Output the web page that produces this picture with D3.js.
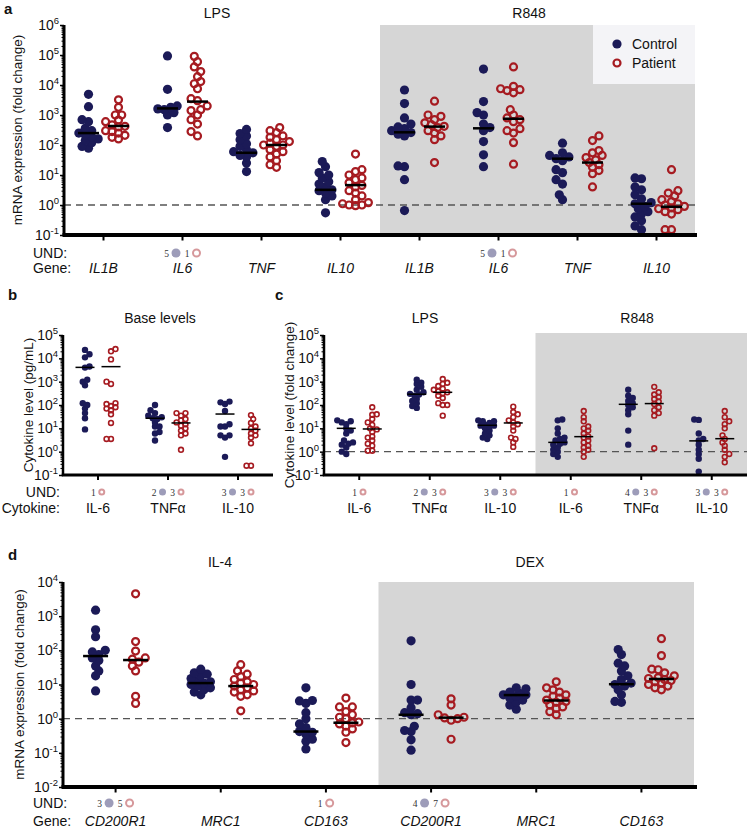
<!DOCTYPE html>
<html>
<head>
<meta charset="utf-8">
<script src="https://cdn.jsdelivr.net/npm/d3@7"></script>
<style>
body { margin: 0; background: #fff; }
svg { display: block; font-family: "Liberation Sans", Arial, sans-serif; }
</style>
</head>
<body>
<svg id="chart"></svg>
<script>
const width = 747;
const height = 828;
const NAVY = "#1b1a57";
const RED = "#a61b21";
const SHADE = "#d6d6d6";

// ---- panel a : mRNA, LPS / R848 ----
const aGenes = ["IL1B", "IL6", "TNF", "IL10", "IL1B", "IL6", "TNF", "IL10"];
const aControl = [
	[4900, 1900, 700, 600, 360, 300, 250, 220, 190, 160, 140, 120, 90, 78],
	[93000, 7200, 2000, 1800, 1600, 1500, 1200, 1000, 380],
	[330, 240, 200, 150, 110, 90, 70, 60, 55, 45, 40, 25, 13],
	[28, 19, 12, 10, 8, 6, 5, 4, 3.2, 3, 2.5, 2, 1.5, 0.55],
	[6800, 2400, 800, 500, 400, 350, 300, 260, 230, 200, 20, 19, 7, 0.65],
	[34000, 2800, 1200, 1000, 500, 380, 300, 130, 47, 19],
	[115, 55, 45, 40, 35, 30, 15, 12, 7, 5, 2.2, 1.5],
	[8, 7.5, 4, 3.2, 2.2, 1.6, 1.2, 1.1, 0.9, 0.75, 0.6, 0.5, 0.4, 0.3, 0.2, 0.15],
];
const aPatient = [
	[3200, 1800, 1000, 1000, 680, 600, 470, 420, 400, 300, 280, 250, 210, 180, 160],
	[90000, 60000, 40000, 28000, 19000, 13000, 11000, 7500, 3500, 3000, 2000, 1500, 1400, 1000, 700, 500, 280, 200],
	[380, 300, 260, 200, 180, 150, 130, 115, 100, 100, 90, 70, 60, 50, 40, 30, 22, 18],
	[50, 15, 13, 10, 8, 7, 5.5, 4.5, 4, 3, 2.5, 2, 1.5, 1.2, 1.1, 1.0, 1.0, 0.95],
	[2900, 1000, 900, 700, 550, 480, 420, 380, 300, 250, 200, 150, 26],
	[40000, 9000, 7500, 7000, 6500, 5500, 1500, 1000, 800, 700, 600, 350, 300, 250, 120, 23],
	[200, 140, 65, 55, 45, 38, 32, 26, 22, 18, 14, 11, 4],
	[15, 3, 2.5, 2, 1.5, 1.3, 1.1, 1.0, 0.9, 0.8, 0.75, 0.7, 0.6, 0.5, 0.15, 0.15],
];
const aControlMedian = [250, 1660, 55, 3.2, 265, 360, 35, 1.1];
const aPatientMedian = [430, 2800, 100, 4.6, 410, 750, 26, 0.87];
const aUndControl = [null, 5, null, null, null, 5, null, null];
const aUndPatient = [null, 1, null, null, null, 1, null, null];

// ---- panel b : base cytokine levels ----
const bCytokines = ["IL-6", "TNFα", "IL-10"];
const bControl = [
	[23000, 15000, 11000, 4500, 4000, 1200, 1000, 700, 120, 100, 70, 45, 27, 9],
	[100, 60, 45, 35, 30, 27, 25, 18, 12, 12, 7, 6, 3],
	[140, 130, 110, 55, 15, 12, 12, 5, 5, 4, 0.6],
];
const bPatient = [
	[25000, 20000, 9000, 1000, 800, 120, 110, 90, 80, 70, 60, 40, 17, 3.5, 3.5],
	[45, 45, 35, 25, 22, 18, 15, 13, 10, 8, 6, 5, 1.2],
	[37, 25, 17, 12, 10, 8, 6, 5, 4, 2.3, 0.25, 0.25],
];
const bControlMean = [4100, 27, 41];
const bPatientMean = [4400, 17, 9];
const bUndControl = [null, 2, 3];
const bUndPatient = [1, 3, 3];

// ---- panel c : cytokine fold change, LPS / R848 ----
const cCytokines = ["IL-6", "TNFα", "IL-10", "IL-6", "TNFα", "IL-10"];
const cControl = [
	[22, 20, 18, 15, 10, 8, 6, 3, 2.5, 2.2, 2, 1.5, 1.0, 0.8],
	[1200, 900, 800, 600, 450, 350, 300, 280, 250, 180, 150, 120, 90, 75],
	[22, 20, 20, 17, 14, 13, 13, 12, 10, 8, 6, 5, 4, 3.5],
	[24, 22, 10, 6, 4, 3.5, 3, 2.5, 2.2, 2, 1.5, 1.2, 1.0, 0.8, 0.6],
	[450, 250, 200, 150, 120, 100, 80, 60, 40, 8, 2],
	[24, 23, 6, 3.5, 3, 2, 1.2, 0.8, 0.5, 0.14],
];
const cPatient = [
	[80, 40, 38, 25, 18, 14, 10, 9, 7, 4.5, 4, 3, 2.2, 1.8, 1.1, 1.1],
	[1300, 900, 800, 650, 500, 450, 380, 350, 320, 250, 200, 120, 100, 100, 35],
	[85, 50, 40, 30, 22, 18, 15, 12, 8, 4, 3.5, 2.5, 1.6],
	[55, 30, 20, 12, 10, 8, 6, 4.5, 4, 3, 2.5, 1.8, 1.5, 1.2, 1.0, 0.6],
	[600, 350, 280, 220, 180, 140, 110, 80, 60, 45, 35, 1.4],
	[55, 30, 20, 15, 10, 5, 3.5, 2.5, 1.8, 1.2, 0.8, 0.6, 0.35],
];
const cControlMean = [10, 290, 13.5, 2.5, 107, 2.9];
const cPatientMean = [9.4, 350, 17, 4.4, 115, 3.6];
const cUndControl = [null, 2, 3, null, 4, 3];
const cUndPatient = [1, 3, 3, 1, 3, 3];

// ---- panel d : mRNA, IL-4 / DEX ----
const dGenes = ["CD200R1", "MRC1", "CD163", "CD200R1", "MRC1", "CD163"];
const dControl = [
	[1500, 400, 250, 100, 90, 75, 60, 50, 35, 25, 18, 6.5],
	[28, 22, 20, 18, 15, 13, 12, 11, 10, 9, 8, 7, 6, 5],
	[8, 3.4, 3.3, 2.8, 1.5, 1.0, 0.7, 0.55, 0.42, 0.4, 0.35, 0.25, 0.22, 0.13],
	[190, 10, 3.5, 3.5, 2.1, 1.5, 1.4, 1.3, 0.6, 0.45, 0.42, 0.24, 0.12],
	[8, 7.5, 6, 5.5, 5, 5, 4.5, 4, 3.5, 3, 2.5, 1.9],
	[105, 75, 42, 35, 25, 18, 14, 11, 10, 9, 7, 5, 3.2, 3.0],
];
const dPatient = [
	[4500, 180, 95, 60, 55, 45, 35, 25, 4.5, 2.8],
	[38, 25, 20, 17, 14, 12, 11, 10, 9, 8, 7, 6.5, 6, 5, 4.5, 1.7],
	[4, 2.2, 2.2, 1.6, 1.3, 1.1, 1.0, 0.8, 0.75, 0.7, 0.6, 0.5, 0.4, 0.2],
	[3.8, 2.5, 1.3, 1.1, 1.05, 1.0, 0.9, 0.25],
	[12, 8, 7, 6, 5, 4.5, 4, 3.5, 3.2, 3, 2.5, 2.2, 2, 1.6, 1.3],
	[220, 70, 28, 27, 22, 18, 16, 15, 14, 13, 12, 11, 10, 9, 8, 7],
];
const dControlMedian = [68, 11, 0.42, 1.3, 4.9, 10.2];
const dPatientMedian = [52, 9, 0.76, 1.07, 3.4, 14.5];
const dUndControl = [3, null, null, 4, null, null];
const dUndPatient = [5, null, 1, 7, null, null];

const svg = d3.select("#chart").attr("width", width).attr("height", height);

// simple beeswarm: spreads overlapping points sideways (points may overlap a bit)
function swarm(vals, y, r) {
	const pts = vals
		.map((v) => ({ v: v, y: y(v), dx: 0 }))
		.sort((a, b) => b.y - a.y);
	const placed = [];
	const minD = r * 1.25;
	const step = r * 0.7;
	pts.forEach((p, n) => {
		let bestDx = 0;
		let bestScore = -Infinity;
		let done = false;
		for (let k = 0; k <= 4 && !done; k++) {
			const sgn = n % 2 ? -1 : 1;
			const cands = k === 0 ? [0] : [sgn * k * step, -sgn * k * step];
			for (const dx of cands) {
				let dmin = Infinity;
				placed.forEach((q) => {
					dmin = Math.min(dmin, Math.hypot(q.dx - dx, q.y - p.y));
				});
				if (dmin >= minD) {
					bestDx = dx;
					done = true;
					break;
				}
				if (dmin > bestScore + 0.5) {
					bestScore = dmin;
					bestDx = dx;
				}
			}
		}
		p.dx = bestDx;
		placed.push(p);
	});
	return pts;
}

function drawPanel(p) {
	const g = svg.append("g");
	const x = d3
		.scaleBand()
		.domain(d3.range(p.cats.length))
		.range([p.x0, p.x1]);
	const y = d3.scaleLog().domain(p.domain).range([p.yBot, p.yTop]);
	const mid = (i) => x(i) + x.bandwidth() / 2;

	if (p.shadeFrom != null) {
		g.append("rect")
			.attr("x", x(p.shadeFrom))
			.attr("y", p.shadeTop)
			.attr("width", p.shadeX1 - x(p.shadeFrom))
			.attr("height", p.yBot - p.shadeTop)
			.attr("fill", SHADE);
	}

	if (p.dashed) {
		g.append("line")
			.attr("x1", p.x0)
			.attr("x2", p.axisX1)
			.attr("y1", y(1))
			.attr("y2", y(1))
			.attr("stroke", "#555")
			.attr("stroke-width", 1.3)
			.attr("stroke-dasharray", "7,5");
	}

	// points
	p.cats.forEach((c, i) => {
		const ctrl = swarm(p.control[i], y, p.r);
		g.append("g")
			.selectAll("circle")
			.data(ctrl)
			.enter()
			.append("circle")
			.attr("cx", (d) => mid(i) - p.off + d.dx)
			.attr("cy", (d) => d.y)
			.attr("r", p.r)
			.attr("fill", NAVY);

		const pat = swarm(p.patient[i], y, p.r);
		g.append("g")
			.selectAll("circle")
			.data(pat)
			.enter()
			.append("circle")
			.attr("cx", (d) => mid(i) + p.off + d.dx)
			.attr("cy", (d) => d.y)
			.attr("r", p.r - p.sw / 2)
			.attr("fill", "none")
			.attr("stroke", RED)
			.attr("stroke-width", p.sw);
	});

	// median / mean bars
	const bars = [];
	p.cats.forEach((c, i) => {
		bars.push({ cx: mid(i) - p.off, v: p.cMid[i] });
		bars.push({ cx: mid(i) + p.off, v: p.pMid[i] });
	});
	g.append("g")
		.selectAll("line")
		.data(bars)
		.enter()
		.append("line")
		.attr("x1", (d) => d.cx - p.midW / 2)
		.attr("x2", (d) => d.cx + p.midW / 2)
		.attr("y1", (d) => y(d.v))
		.attr("y2", (d) => y(d.v))
		.attr("stroke", "#000")
		.attr("stroke-width", p.midSW);

	// y axis: minor and major ticks
	const e0 = Math.round(Math.log10(p.domain[0]));
	const e1 = Math.round(Math.log10(p.domain[1]));
	const majors = d3.range(e0, e1 + 1);
	const minors = [];
	d3.range(e0, e1).forEach((e) => {
		d3.range(2, 10).forEach((k) => minors.push(k * Math.pow(10, e)));
	});
	const axMinor = g
		.append("g")
		.attr("transform", `translate(${p.x0},0)`)
		.call(d3.axisLeft(y).tickValues(minors).tickSize(2.5).tickFormat(""));
	axMinor.select(".domain").remove();
	axMinor.selectAll("line").attr("stroke-width", 1);

	const axMajor = g
		.append("g")
		.attr("transform", `translate(${p.x0},0)`)
		.call(
			d3
				.axisLeft(y)
				.tickValues(majors.map((e) => Math.pow(10, e)))
				.tickSize(4)
				.tickFormat("")
		);
	axMajor.select(".domain").remove();
	axMajor.selectAll("line").attr("stroke-width", 1.5);

	const lab = g
		.append("g")
		.selectAll("text")
		.data(majors)
		.enter()
		.append("text")
		.attr("x", p.x0 - 5)
		.attr("y", (e) => y(Math.pow(10, e)) + 5)
		.attr("text-anchor", "end")
		.attr("font-size", p.tickFont)
		.attr("fill", "#111");
	lab.append("tspan").text("10");
	lab.append("tspan")
		.attr("dy", -6)
		.attr("font-size", p.supFont)
		.text((e) => e);

	g.append("line")
		.attr("x1", p.x0)
		.attr("x2", p.x0)
		.attr("y1", p.yTop)
		.attr("y2", p.yBot)
		.attr("stroke", "#000")
		.attr("stroke-width", p.yAxisW);

	// x axis
	const axX = g
		.append("g")
		.attr("transform", `translate(0,${p.yBot + p.xAxisW / 2 - 0.5})`)
		.call(d3.axisBottom(x).tickSize(4).tickFormat(""));
	axX.select(".domain").remove();
	axX.selectAll(".tick line").attr("stroke-width", 2);
	g.append("line")
		.attr("x1", p.x0 - p.yAxisW / 2)
		.attr("x2", p.axisX1)
		.attr("y1", p.yBot)
		.attr("y2", p.yBot)
		.attr("stroke", "#000")
		.attr("stroke-width", p.xAxisW);

	// y title
	g.append("text")
		.attr("transform", `translate(${p.yTitleX},${(p.yTop + p.yBot) / 2}) rotate(-90)`)
		.attr("dy", "0.35em")
		.attr("text-anchor", "middle")
		.attr("font-size", 13.5)
		.attr("fill", "#111")
		.text(p.yTitle);

	// panel titles
	p.titles.forEach((t) => {
		g.append("text")
			.attr("x", t[1])
			.attr("y", p.titleY)
			.attr("text-anchor", "middle")
			.attr("font-size", 14)
			.attr("fill", "#111")
			.text(t[0]);
	});

	// category labels
	g.append("g")
		.selectAll("text")
		.data(p.cats)
		.enter()
		.append("text")
		.attr("x", (d, i) => mid(i))
		.attr("y", p.catY)
		.attr("text-anchor", "middle")
		.attr("font-size", 14)
		.attr("font-style", p.italic ? "italic" : "normal")
		.attr("fill", "#111")
		.text((d) => d);

	// UND markers
	p.cats.forEach((c, i) => {
		const items = [];
		if (p.undC[i] != null) {
			items.push({ t: "n", s: p.undC[i], w: 5 });
			items.push({ t: "f", w: p.undR * 2 });
		}
		if (p.undP[i] != null) {
			items.push({ t: "n", s: p.undP[i], w: 5 });
			items.push({ t: "o", w: p.undR * 2 });
		}
		if (!items.length) return;
		const gaps = items.map((it, k) => (k === 0 ? 0 : it.t === "n" ? 4 : 2.5));
		const total = d3.sum(items, (it) => it.w) + d3.sum(gaps);
		let cur = mid(i) - total / 2;
		items.forEach((it, k) => {
			cur += gaps[k];
			const cx = cur + it.w / 2;
			if (it.t === "n") {
				g.append("text")
					.attr("x", cx)
					.attr("y", p.undY + 3.5)
					.attr("text-anchor", "middle")
					.attr("font-family", "'Liberation Serif', 'DejaVu Serif', serif")
					.attr("font-size", 9.5)
					.attr("fill", "#333")
					.text(it.s);
			} else if (it.t === "f") {
				g.append("circle").attr("cx", cx).attr("cy", p.undY).attr("r", p.undR).attr("fill", "#9d9cb9");
			} else {
				g.append("circle")
					.attr("cx", cx)
					.attr("cy", p.undY)
					.attr("r", p.undR - 1)
					.attr("fill", "none")
					.attr("stroke", "#d6989b")
					.attr("stroke-width", 2);
			}
			cur += it.w;
		});
	});

	return { x: x, y: y, g: g };
}

drawPanel({
	cats: aGenes, control: aControl, patient: aPatient, cMid: aControlMedian, pMid: aPatientMedian,
	undC: aUndControl, undP: aUndPatient,
	x0: 64, x1: 696, axisX1: 697, yTop: 25, yBot: 235, domain: [0.1, 1e6],
	r: 4.6, sw: 2.2, off: 15, midW: 21, midSW: 2.5,
	shadeFrom: 4, shadeX1: 695, shadeTop: 25, dashed: true,
	xAxisW: 4, yAxisW: 3, tickFont: 14, supFont: 9.5,
	yTitle: "mRNA expression (fold change)", yTitleX: 17,
	titles: [["LPS", 217], ["R848", 529]], titleY: 18,
	italic: true, catY: 273, undY: 253, undR: 4.5,
});

drawPanel({
	cats: bCytokines, control: bControl, patient: bPatient, cMid: bControlMean, pMid: bPatientMean,
	undC: bUndControl, undP: bUndPatient,
	x0: 63, x1: 273, axisX1: 273, yTop: 335, yBot: 475, domain: [0.1, 1e5],
	r: 3.2, sw: 1.6, off: 13, midW: 19, midSW: 1.5,
	shadeFrom: null, dashed: false,
	xAxisW: 3, yAxisW: 2.5, tickFont: 14, supFont: 9.5,
	yTitle: "Cytokine level (pg/mL)", yTitleX: 28,
	titles: [["Base levels", 160]], titleY: 323,
	italic: false, catY: 513, undY: 492, undR: 3.5,
});

drawPanel({
	cats: cCytokines, control: cControl, patient: cPatient, cMid: cControlMean, pMid: cPatientMean,
	undC: cUndControl, undP: cUndPatient,
	x0: 324, x1: 747, axisX1: 747, yTop: 335, yBot: 475, domain: [0.1, 1e5],
	r: 3.2, sw: 1.6, off: 13, midW: 19, midSW: 1.5,
	shadeFrom: 3, shadeX1: 747, shadeTop: 333, dashed: true,
	xAxisW: 3, yAxisW: 2.5, tickFont: 14, supFont: 9.5,
	yTitle: "Cytokine level (fold change)", yTitleX: 289,
	titles: [["LPS", 425], ["R848", 637]], titleY: 323,
	italic: false, catY: 513, undY: 492, undR: 3.5,
});

drawPanel({
	cats: dGenes, control: dControl, patient: dPatient, cMid: dControlMedian, pMid: dPatientMedian,
	undC: dUndControl, undP: dUndPatient,
	x0: 63, x1: 694, axisX1: 697, yTop: 582, yBot: 787, domain: [0.01, 1e4],
	r: 4.6, sw: 2.2, off: 20, midW: 25, midSW: 2.5,
	shadeFrom: 3, shadeX1: 694, shadeTop: 582, dashed: true,
	xAxisW: 4, yAxisW: 3, tickFont: 14, supFont: 9.5,
	yTitle: "mRNA expression (fold change)", yTitleX: 19,
	titles: [["IL-4", 220], ["DEX", 530]], titleY: 567,
	italic: true, catY: 826, undY: 803, undR: 4.5,
});

// row headers
const rowLabels = [
	{ text: "UND:", x: 33, y: 258, anchor: "start" },
	{ text: "Gene:", x: 33, y: 273, anchor: "start" },
	{ text: "UND:", x: 60, y: 497, anchor: "end" },
	{ text: "Cytokine:", x: 60, y: 513, anchor: "end" },
	{ text: "UND:", x: 33, y: 808, anchor: "start" },
	{ text: "Gene:", x: 33, y: 826, anchor: "start" },
];
svg.append("g")
	.selectAll("text")
	.data(rowLabels)
	.enter()
	.append("text")
	.attr("x", (d) => d.x)
	.attr("y", (d) => d.y)
	.attr("text-anchor", (d) => d.anchor)
	.attr("font-size", 14)
	.attr("fill", "#111")
	.text((d) => d.text);

// panel letters
const letters = [
	{ t: "a", x: 4, y: 14 },
	{ t: "b", x: 8, y: 300 },
	{ t: "c", x: 275, y: 300 },
	{ t: "d", x: 8, y: 560 },
];
svg.append("g")
	.selectAll("text")
	.data(letters)
	.enter()
	.append("text")
	.attr("x", (d) => d.x)
	.attr("y", (d) => d.y)
	.attr("font-size", 15)
	.attr("font-weight", "bold")
	.attr("fill", "#111")
	.text((d) => d.t);

// legend
const legend = svg.append("g");
legend.append("rect")
	.attr("x", 593)
	.attr("y", 25)
	.attr("width", 102)
	.attr("height", 59)
	.attr("fill", "#f4f4f7");
legend.append("circle").attr("cx", 617).attr("cy", 44).attr("r", 4.6).attr("fill", NAVY);
legend.append("circle")
	.attr("cx", 617)
	.attr("cy", 63)
	.attr("r", 3.5)
	.attr("fill", "none")
	.attr("stroke", RED)
	.attr("stroke-width", 2.2);
legend.append("text").attr("x", 632).attr("y", 49).attr("font-size", 14).attr("fill", "#111").text("Control");
legend.append("text").attr("x", 632).attr("y", 68).attr("font-size", 14).attr("fill", "#111").text("Patient");
</script>
</body>
</html>
